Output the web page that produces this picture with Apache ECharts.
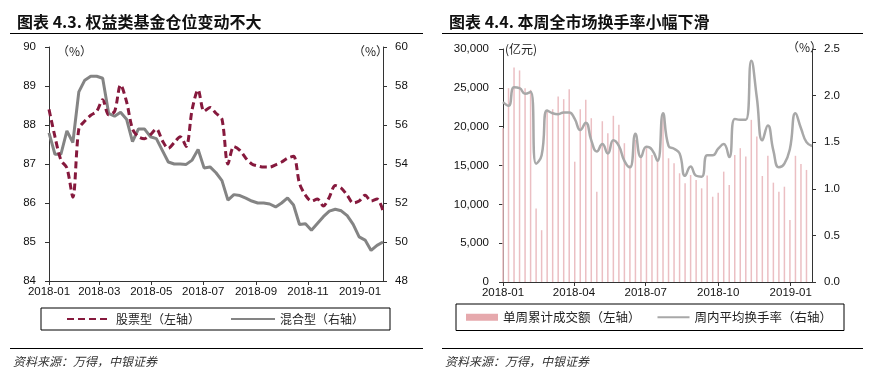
<!DOCTYPE html>
<html><head><meta charset="utf-8">
<script src="https://cdn.jsdelivr.net/npm/echarts@6/dist/echarts.min.js"></script>
<style>html,body{margin:0;padding:0;background:#fff}#c{width:878px;height:375px}</style>
</head><body><div id="c"></div>
<script>
// ---------- DATA ----------
const dates = ['2018-01-01','2018-01-08','2018-01-15','2018-01-22','2018-01-29','2018-02-05','2018-02-12','2018-02-19','2018-02-26','2018-03-05','2018-03-12','2018-03-19','2018-03-26','2018-04-02','2018-04-09','2018-04-16','2018-04-23','2018-04-30','2018-05-07','2018-05-14','2018-05-21','2018-05-28','2018-06-04','2018-06-11','2018-06-18','2018-06-25','2018-07-02','2018-07-09','2018-07-16','2018-07-23','2018-07-30','2018-08-06','2018-08-13','2018-08-20','2018-08-27','2018-09-03','2018-09-10','2018-09-17','2018-09-24','2018-10-01','2018-10-08','2018-10-15','2018-10-22','2018-10-29','2018-11-05','2018-11-12','2018-11-19','2018-11-26','2018-12-03','2018-12-10','2018-12-17','2018-12-24','2018-12-31','2019-01-07','2019-01-14','2019-01-21','2019-01-28'];
// 股票型基金仓位（左轴, %）
const stockPos = [88.4,87.7,87.1,86.9,86.15,87.9,88.1,88.25,88.35,88.65,88.26,88.35,89.03,88.6,87.9,87.7,87.65,87.75,87.9,87.6,87.4,87.55,87.7,87.45,88.4,88.9,88.35,88.45,88.3,88.15,87.0,87.45,87.35,87.15,87.0,86.95,86.92,86.92,86.98,87.05,87.15,87.2,86.5,86.2,86.05,86.1,85.92,86.15,86.45,86.38,86.2,86.0,86.05,86.2,86.05,86.1,85.8];
// 混合型基金仓位（右轴, %）
const mixedPos = [55.6,54.5,54.5,55.7,55.1,57.7,58.3,58.5,58.5,58.4,56.6,56.45,56.65,56.3,55.15,55.8,55.8,55.4,55.3,54.7,54.1,54.0,54.0,53.98,54.2,54.75,53.8,53.85,53.55,53.15,52.15,52.43,52.38,52.25,52.1,52.0,52.0,51.95,51.8,52.0,52.26,51.9,50.9,50.94,50.6,50.95,51.3,51.58,51.68,51.6,51.35,50.9,50.26,50.1,49.57,49.83,50.0];
// 单周累计成交额（左轴, 亿元）
const weeklyAmount = [19800,24960,27620,27240,24960,24740,9470,6670,22160,22250,23890,23540,24830,15490,22250,23460,21090,11620,20700,19150,21400,20240,17870,15070,18300,16360,17230,16360,15720,21530,15930,15290,14000,12710,13780,13140,12060,13700,10980,11500,14210,12490,16360,17230,16150,20880,18730,13650,16250,12790,11620,12270,7970,16250,15200,14430,null];
// 周内平均换手率（右轴, %）
const turnoverRate = [1.93,1.89,2.09,2.08,2.02,2.04,1.27,1.36,1.84,1.81,1.80,1.82,1.82,1.75,1.63,1.71,1.52,1.40,1.48,1.38,1.52,1.46,1.30,1.23,1.59,1.34,1.45,1.42,1.30,1.81,1.46,1.43,1.38,1.14,1.24,1.14,1.13,1.36,1.36,1.43,1.48,1.34,1.75,1.74,1.74,2.375,1.98,1.52,1.68,1.41,1.23,1.27,1.43,1.81,1.65,1.50,1.46];
// tick labels
const leftTicks = ['2018-01-01','2018-03-01','2018-05-01','2018-07-01','2018-09-01','2018-11-01','2019-01-01'];
const rightTicks = ['2018-01-01','2018-04-01','2018-07-01','2018-10-01','2019-01-01'];
const titles = ['图表 4.3. 权益类基金仓位变动不大','图表 4.4. 本周全市场换手率小幅下滑'];
const sourceText = '资料来源：万得，中银证券';
const legendLeft = ['股票型（左轴）','混合型（右轴）'];
const legendRight = ['单周累计成交额（左轴）','周内平均换手率（右轴）'];

// ---------- CHART ----------
const ts = s => { const [y,m,d] = s.split('-').map(Number); return Date.UTC(y, m-1, d); };
const pair = (arr) => dates.map((d,i)=>[ts(d), arr[i]]);
const NUM = "'Liberation Sans',Arial,sans-serif";
const CJK = "'Noto Sans CJK SC','Liberation Sans',sans-serif";
const axisCol = '#333';
const fmtMonth = v => { const dt = new Date(v); return dt.getUTCFullYear() + '-' + String(dt.getUTCMonth()+1).padStart(2,'0'); };

function xAx(grid, ticks){
  const vals = ticks.map(ts);
  return {
    type:'value', gridIndex:grid, min: ts(dates[0]), max: ts(dates[dates.length-1]),
    axisLine:{show:true, onZero:false, lineStyle:{color:axisCol, width:1}},
    axisTick:{show:true, customValues: vals, length:4, lineStyle:{color:axisCol}},
    axisLabel:{customValues: vals, formatter: v => fmtMonth(v),
      color:'#111', fontSize:11.5, fontFamily:NUM, margin:5, hideOverlap:false},
    splitLine:{show:false}
  };
}
function yAx(grid, pos, min, max, interval, fmt, margin){
  return {
    type:'value', gridIndex:grid, position:pos, min, max, interval,
    axisLine:{show:true, lineStyle:{color:axisCol, width:1}},
    axisTick:{show:true, length:4, lineStyle:{color:axisCol}},
    axisLabel:{color:'#111', fontSize:11.5, fontFamily:NUM, margin, formatter:fmt},
    splitLine:{show:false}
  };
}

const chart = echarts.init(document.getElementById('c'), null, {renderer:'canvas'});
const option = {
  backgroundColor:'#fff',
  animation:false,
  title: [
    {text:titles[0], left:12, top:9, textStyle:{fontFamily:CJK, fontSize:16, fontWeight:'bold', color:'#111'}},
    {text:titles[1], left:444, top:9, textStyle:{fontFamily:CJK, fontSize:16, fontWeight:'bold', color:'#111'}}
  ],
  grid: [
    {left:49, right:495, top:47, bottom:94},
    {left:503, right:66, top:49, bottom:93}
  ],
  xAxis: [xAx(0, leftTicks), xAx(1, rightTicks)],
  yAxis: [
    yAx(0,'left',84,90,1,v=>String(v),13),
    yAx(0,'right',48,60,2,v=>String(v),12),
    yAx(1,'left',0,30000,5000,v=>v.toLocaleString('en-US'),14),
    yAx(1,'right',0,2.5,0.5,v=>v.toFixed(1),12)
  ],
  legend: [
    {data:legendLeft, left:41, top:308, orient:'horizontal', itemWidth:44, itemHeight:12, itemGap:30,
     padding:[5,26,5,25], borderColor:'#000', borderWidth:1,
     itemStyle:{opacity:0, borderWidth:0},
     textStyle:{fontFamily:CJK, fontSize:12, color:'#222'}},
    {data:[{name:legendRight[0], icon:'rect', itemStyle:{opacity:1, color:'#e6a9ad'}},{name:legendRight[1]}], left:456, top:304, orient:'horizontal',
     itemWidth:32, itemHeight:7, itemGap:16, padding:[7,12,7,10], borderColor:'#000', borderWidth:1,
     itemStyle:{opacity:0, borderWidth:0},
     textStyle:{fontFamily:CJK, fontSize:12.5, color:'#222'}}
  ],
  series: [
    {name:legendLeft[1], type:'line', xAxisIndex:0, yAxisIndex:1, data:pair(mixedPos), symbol:'none',
     lineStyle:{color:'#848484', width:3}, itemStyle:{color:'#848484'}, z:2},
    {name:legendLeft[0], type:'line', xAxisIndex:0, yAxisIndex:0, data:pair(stockPos), symbol:'none', smooth:0.3,
     lineStyle:{color:'#86193d', width:3, type:[7,4]}, itemStyle:{color:'#86193d'}, z:3},
    {name:legendRight[0], type:'bar', xAxisIndex:1, yAxisIndex:2, data:pair(weeklyAmount), barWidth:1.5,
     itemStyle:{color:'#ebbfc3'}, z:2},
    {name:legendRight[1], type:'line', xAxisIndex:1, yAxisIndex:3, data:pair(turnoverRate), symbol:'none', smooth:0.5,
     lineStyle:{color:'#a8a8a8', width:2.5}, itemStyle:{color:'#a8a8a8'}, z:3}
  ],
  graphic: [
    {type:'line', shape:{x1:10,y1:33.5,x2:423,y2:33.5}, style:{stroke:'#000', lineWidth:1}},
    {type:'line', shape:{x1:442,y1:33.5,x2:863,y2:33.5}, style:{stroke:'#000', lineWidth:1}},
    {type:'line', shape:{x1:10,y1:348.5,x2:423,y2:348.5}, style:{stroke:'#000', lineWidth:1}},
    {type:'line', shape:{x1:442,y1:348.5,x2:863,y2:348.5}, style:{stroke:'#000', lineWidth:1}},
    {type:'text', x:13, y:355, style:{text:sourceText, font:"italic 12px 'Noto Sans CJK SC'", fill:'#333'}},
    {type:'text', x:445, y:355, style:{text:sourceText, font:"italic 12px 'Noto Sans CJK SC'", fill:'#333'}},
    {type:'text', x:57, y:45, style:{text:'（%）', font:"12px 'Noto Sans CJK SC'", fill:'#222'}},
    {type:'text', x:353, y:45, style:{text:'（%）', font:"12px 'Noto Sans CJK SC'", fill:'#222'}},
    {type:'text', x:505, y:43, style:{text:'(亿元)', font:"12px 'Noto Sans CJK SC'", fill:'#222'}},
    {type:'text', x:787, y:41, style:{text:'（%）', font:"12px 'Noto Sans CJK SC'", fill:'#222'}}
  ]
};
chart.setOption(option);
</script></body></html>
